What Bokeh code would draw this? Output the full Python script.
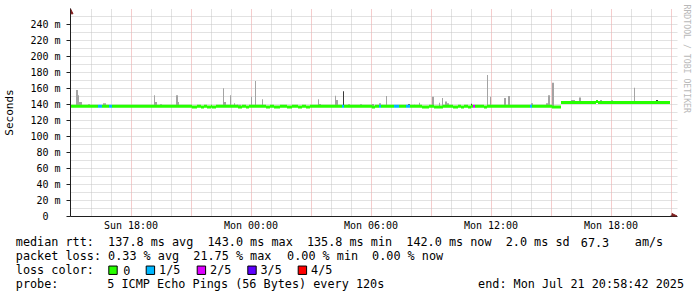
import numpy as np
from datetime import datetime
from bokeh.plotting import figure
from bokeh.layouts import column
from bokeh.models import (FixedTicker, Range1d, Title, Arrow, NormalHead,
                          DatetimeTickFormatter, ColumnDataSource)
from bokeh.core.properties import value
from bokeh.embed import file_html
from bokeh.resources import INLINE

# ---------------- data (hours after Sun 2025-07-20 15:00) ----------------
START = datetime(2025, 7, 20, 15, 0, 0)

# median rtt step segments: start hour, median (ms), loss (pings of 5)
med_start_h = [0, 1.35, 1.55, 1.9, 2.05, 6.05, 6.3, 6.5, 6.65, 6.8, 7.0, 7.05, 7.25,
               8.35, 8.55, 8.75, 8.9, 9.75, 9.95, 10.15, 10.45, 10.8, 11.05, 11.35,
               11.55, 11.75, 11.95, 13.55, 13.65, 15.05, 15.2, 15.4, 15.5, 16.15, 16.4,
               16.75, 16.95, 17.55, 17.9, 18.15, 18.6, 19.1, 19.35, 19.5, 19.65, 19.85,
               20.0, 20.1, 20.2, 20.65, 20.8, 22.95, 23.05, 24.05, 24.5, 26.25, 26.35]
med_end_h = 29.95
med_ms = [137.2, 137.2, 137.2, 137.2, 137.2, 136.2, 137.2, 136.2, 137.2, 136.2, 137.2, 136.2, 137.2,
          136.2, 137.2, 136.2, 137.2, 136.2, 137.2, 136.2, 137.2, 136.2, 137.2, 136.2,
          137.2, 136.2, 137.2, 137.2, 137.2, 136.2, 137.2, 137.2, 137.2, 137.2, 137.2,
          137.2, 137.2, 136.2, 137.2, 136.2, 137.2, 136.2, 137.2, 136.2, 137.2, 136.2,
          137.2, 137.2, 137.2, 136.2, 137.2, 137.2, 137.2, 136.4, 141.8, 143.0, 141.8]
med_loss = [0, 1, 0, 1, 0, 0, 0, 0, 0, 0, 0, 0, 0,
            0, 0, 0, 0, 0, 0, 0, 0, 0, 0, 0,
            0, 0, 0, 1, 0, 0, 0, 1, 0, 1, 0,
            1, 0, 0, 0, 0, 0, 0, 0, 0, 0, 0,
            0, 2, 0, 0, 0, 1, 0, 0, 0, 0, 0]

# smoke (ping spread above the median): start hour, end hour, top (ms)
smoke_start_h = [0.25, 0.35, 0.40, 0.85, 1.60, 4.15, 4.20, 4.45, 5.25, 5.35, 7.60, 7.65, 7.95,
                 8.15, 8.30, 9.00, 9.20, 9.55, 12.35, 12.40, 13.20, 13.25, 13.85, 14.45, 15.05,
                 15.40, 15.75, 17.15, 17.40, 18.05, 18.40, 18.55, 18.70, 18.80, 20.80, 20.95,
                 21.65, 21.85, 23.00, 23.75, 23.85, 24.05, 24.60, 24.85, 25.00, 25.40, 26.15,
                 26.45, 26.55, 27.00, 27.10, 28.05, 28.15]
smoke_end_h = [0.35, 0.40, 0.55, 0.95, 1.75, 4.20, 4.30, 4.55, 5.35, 5.40, 7.65, 7.75, 8.00,
               8.20, 8.50, 9.05, 9.25, 9.60, 12.40, 12.50, 13.25, 13.35, 13.95, 14.55, 15.15,
               15.50, 15.80, 17.20, 17.45, 18.15, 18.45, 18.60, 18.80, 18.90, 20.85, 21.00,
               21.75, 21.95, 23.10, 23.85, 23.95, 24.15, 24.75, 24.95, 25.20, 25.50, 26.20,
               26.55, 26.65, 27.10, 27.35, 28.15, 28.20]
smoke_top_ms = [157.5, 151, 142.5, 139.6, 141, 151, 142.5, 139.6, 151, 142.5, 159.6, 142.5, 151,
                141, 139, 149, 168.8, 146, 146, 140, 150.4, 145, 139.6, 139.6, 140,
                140.8, 150, 139, 141.7, 149, 141.7, 147.5, 143, 141, 176.3, 149,
                147.5, 150, 141, 141, 151, 166.7, 143.8, 143.8, 145, 148, 143.8,
                145, 143.8, 144.6, 143.8, 143.8, 160.4]

# darker smoke (several pings at the same level)
dark_start_h = [13.60, 16.85, 20.00, 29.25]
dark_end_h = [13.65, 16.95, 20.05, 29.35]
dark_top_ms = [156, 139.6, 140.4, 145]

y_ticks = [0, 20, 40, 60, 80, 100, 120, 140, 160, 180, 200, 220, 240]
y_minor = [10, 30, 50, 70, 90, 110, 130, 150, 170, 190, 210, 230, 250]
label_hours = [3, 9, 15, 21, 27]          # Sun 18:00 ... Mon 18:00
loss_labels = ["0", "1/5", "2/5", "3/5", "4/5"]
loss_colors = ["#26ff00", "#00b8ff", "#dd00ff", "#5e00ff", "#ff0000"]

row_median = ["median rtt:", "137.8 ms avg", "143.0 ms max", "135.8 ms min",
              "142.0 ms now", "2.0 ms sd", "67.3", "am/s"]
row_loss = ["packet loss:", "0.33 % avg", "21.75 % max", "0.00 % min", "0.00 % now"]
row_probe = ["probe:", "5 ICMP Echo Pings (56 Bytes) every 120s",
             "end: Mon Jul 21 20:58:42 2025"]

# ---------------- geometry / helpers ----------------
HOUR = 3600 * 1000.0
T0 = (START - datetime(1970, 1, 1)).total_seconds() * 1000.0
PX_PER_H = 20.0
MS_PER_PX = HOUR / PX_PER_H
V_PER_PX = 1.25                       # 0.8 px per ms of rtt
FL, FR, FT, FB = 67, 674, 8, 216      # frame edges on the canvas
TOP_H = 232                           # height of the graph part


def tms(h):
    return T0 + np.asarray(h, dtype=float) * HOUR


def median_at(h):
    idx = np.searchsorted(np.array(med_start_h), np.asarray(h, dtype=float), side="right") - 1
    return np.array(med_ms)[idx]


# half-pixel offsets so the dotted grid lines sit on pixel centres
x0 = T0 - 0.5 * MS_PER_PX
x1 = x0 + (FR - FL) * MS_PER_PX
y0 = -0.5 * V_PER_PX
y1 = y0 + (FB - FT) * V_PER_PX


def cx(px):
    return x0 + (px - FL) * MS_PER_PX


def cy(py):
    return y0 + (FB - py) * V_PER_PX


FONT = "DejaVu Sans Mono"
GRID_GRAY = "#c4c4c4"
GRID_RED = "#eb9a9a"
AXIS_COL = "#1f1f1f"
ARROW_COL = "#801f1f"

p = figure(frame_width=FR - FL, frame_height=FB - FT, x_axis_type="datetime",
           x_range=Range1d(x0, x1), y_range=Range1d(y0, y1),
           output_backend="svg", toolbar_location=None, frame_align=False,
           min_border_left=FL, min_border_right=697 - FR, min_border_top=FT,
           min_border_bottom=TOP_H - FB)
p.outline_line_color = None
p.background_fill_color = "white"
p.border_fill_color = "white"

# grids
p.ygrid.ticker = FixedTicker(ticks=y_ticks[1:], minor_ticks=y_minor)
p.ygrid.grid_line_color = GRID_GRAY
p.ygrid.grid_line_dash = "1 1"
p.ygrid.minor_grid_line_color = GRID_GRAY
p.ygrid.minor_grid_line_dash = "1 1"

red_h = list(range(3, 31, 3))
gray_h = [h for h in range(1, 31) if h % 3]
p.xgrid.ticker = FixedTicker(ticks=list(tms(red_h)), minor_ticks=list(tms(gray_h)))
p.xgrid.grid_line_color = GRID_RED
p.xgrid.grid_line_dash = "1 1"
p.xgrid.minor_grid_line_color = GRID_GRAY
p.xgrid.minor_grid_line_dash = "1 1"

# axes
p.xaxis.ticker = FixedTicker(ticks=list(tms(label_hours)), minor_ticks=[])
fmt = "%a %H:%M"
p.xaxis.formatter = DatetimeTickFormatter(microseconds=fmt, milliseconds=fmt, seconds=fmt,
                                          minsec=fmt, minutes=fmt, hourmin=fmt, hours=fmt,
                                          days=fmt, months=fmt, years=fmt)
p.yaxis.ticker = FixedTicker(ticks=y_ticks, minor_ticks=[])
p.yaxis.major_label_overrides = {v: (f"{v} m" if v else "0\u00a0\u00a0") for v in y_ticks}
for ax in (p.xaxis, p.yaxis):
    ax.axis_line_color = AXIS_COL
    ax.major_tick_line_color = AXIS_COL
    ax.minor_tick_line_color = None
    ax.major_label_text_font = FONT
    ax.major_label_text_font_size = "10px"
    ax.major_label_text_color = "black"
p.xaxis.major_tick_in = 0
p.xaxis.major_tick_out = 0
p.xaxis.major_label_standoff = 3
p.yaxis.major_tick_in = 0
p.yaxis.major_tick_out = 4
p.yaxis.major_label_standoff = 6
p.yaxis.axis_label = "Seconds"
p.yaxis.axis_label_text_font = FONT
p.yaxis.axis_label_text_font_size = "11px"
p.yaxis.axis_label_text_font_style = "normal"
p.yaxis.axis_label_text_color = "black"
p.yaxis.axis_label_standoff = 11

# smoke
s_src = ColumnDataSource(dict(left=tms(smoke_start_h), right=tms(smoke_end_h),
                              top=smoke_top_ms, bottom=median_at(smoke_start_h)))
p.quad(left="left", right="right", top="top", bottom="bottom", source=s_src,
       fill_color="#a3a3a3", line_color=None)
d_src = ColumnDataSource(dict(left=tms(dark_start_h), right=tms(dark_end_h),
                              top=dark_top_ms, bottom=median_at(dark_start_h)))
p.quad(left="left", right="right", top="top", bottom="bottom", source=d_src,
       fill_color="#3a3a3a", line_color=None)

# median line coloured by loss
ends = med_start_h[1:] + [med_end_h]
m_src = ColumnDataSource(dict(x0=tms(med_start_h), x1=tms(ends), y=med_ms,
                              c=[loss_colors[l] for l in med_loss]))
p.segment(x0="x0", y0="y", x1="x1", y1="y", line_color="c", line_width=3, source=m_src)

# arrows at the axis ends
p.add_layout(Arrow(end=NormalHead(size=5, fill_color=ARROW_COL, line_color=ARROW_COL, line_width=1),
                   x_start=cx(67), y_start=cy(14), x_end=cx(67), y_end=cy(8.3),
                   line_color=AXIS_COL, line_width=1))
p.add_layout(Arrow(end=NormalHead(size=5, fill_color=ARROW_COL, line_color=ARROW_COL, line_width=1),
                   x_start=cx(667), y_start=cy(215.5), x_end=cx(673.5), y_end=cy(215.5),
                   line_color=AXIS_COL, line_width=1))

# watermark on the right edge
p.add_layout(Title(text="RRDTOOL / TOBI OETIKER", align="left", offset=-4, standoff=9,
                   text_font=FONT, text_font_size="8.2px", text_font_style="normal",
                   text_color="#b8b8b8"), "right")

# ---------------- legend (below the graph) ----------------
LH = 297 - TOP_H
leg = figure(width=697, height=LH, x_range=Range1d(0, 697), y_range=Range1d(LH, 0),
             output_backend="svg", toolbar_location=None, min_border=0, frame_align=False,
             x_axis_location=None, y_axis_location=None)
leg.outline_line_color = None
leg.grid.visible = False
leg.background_fill_color = "white"
leg.border_fill_color = "white"

ROWS = [240.6 - TOP_H + i * 14.07 for i in range(4)]
txt_x, txt_y, txt = [], [], []
for s, x in zip(row_median, [15.3, 107.6, 207.0, 306.4, 405.8, 505.2, 580.3, 634.3]):
    txt.append(s); txt_x.append(x); txt_y.append(ROWS[0])
for s, x in zip(row_loss, [15.3, 107.6, 192.8, 286.6, 371.6]):
    txt.append(s); txt_x.append(x); txt_y.append(ROWS[1])
txt.append("loss color:"); txt_x.append(15.3); txt_y.append(ROWS[2])
for s, x in zip(loss_labels, [122.8, 158.6, 209.6, 260.0, 310.6]):
    txt.append(s); txt_x.append(x); txt_y.append(ROWS[2])
for s, x in zip(row_probe, [15.3, 106.8, 477.6]):
    txt.append(s); txt_x.append(x); txt_y.append(ROWS[3])

leg.text(x=txt_x, y=txt_y, text=txt, text_font=value(FONT), text_font_size="11.8px",
         text_align="left", text_baseline="middle", text_color="black")
box_x = [108.3, 145.7, 196.7, 247.3, 297.7]
leg.quad(left=box_x, right=[b + 8.4 for b in box_x],
         top=[ROWS[2] - 4.2] * 5, bottom=[ROWS[2] + 4.2] * 5,
         fill_color=loss_colors, line_color="black", line_width=1)

layout = column(p, leg, spacing=0)
open("out.html", "w").write(file_html(layout, INLINE))
